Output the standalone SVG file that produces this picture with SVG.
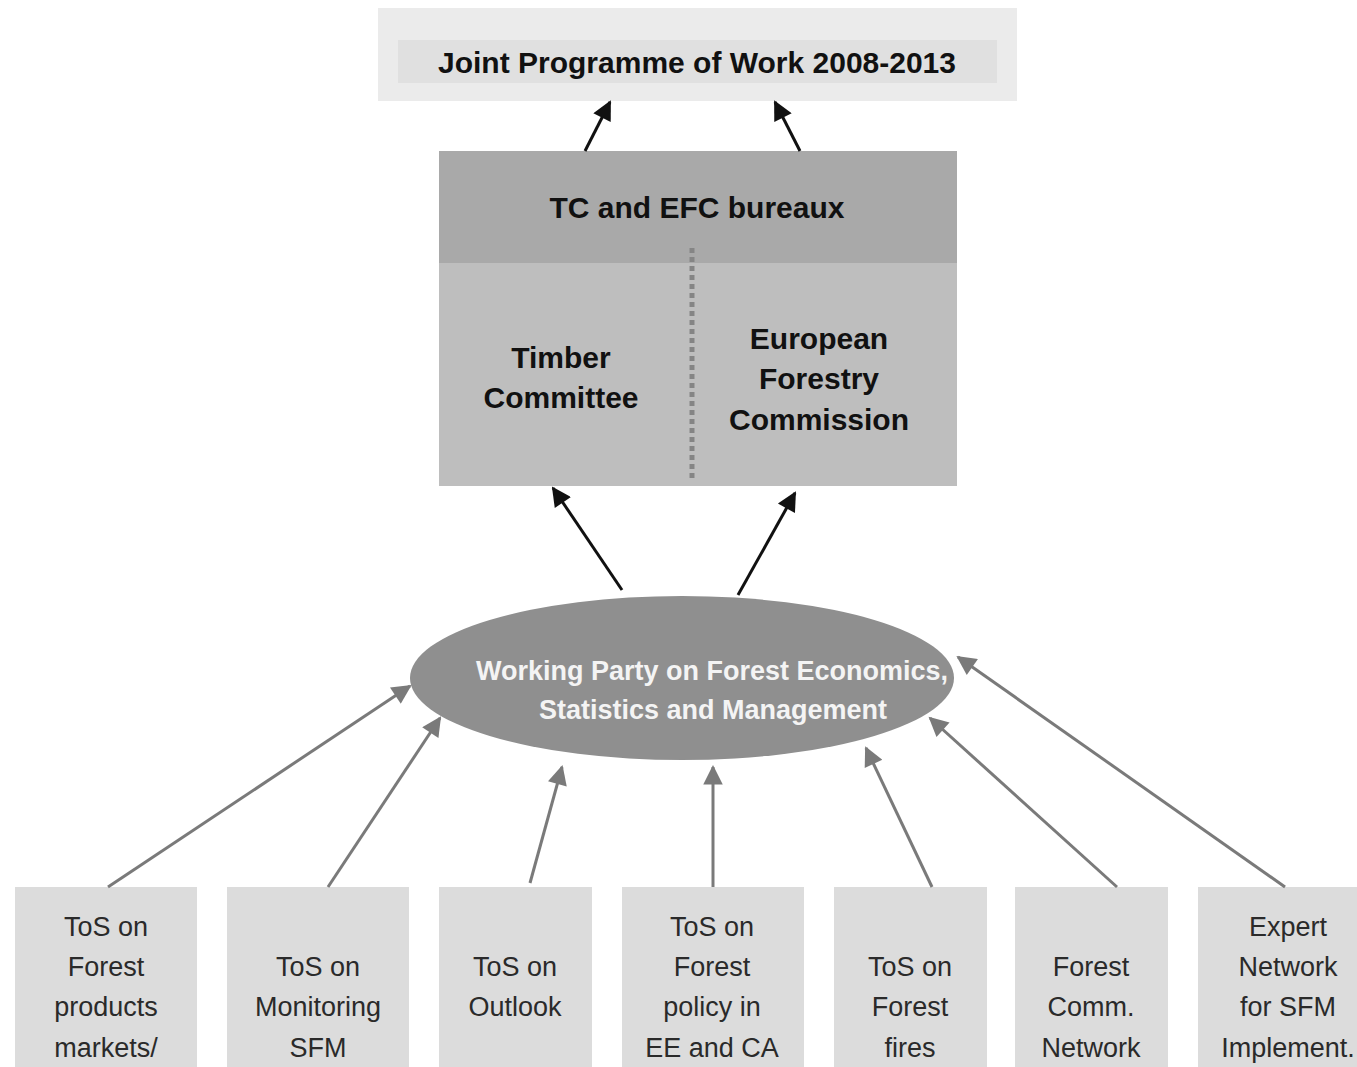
<svg xmlns="http://www.w3.org/2000/svg" width="1357" height="1067" viewBox="0 0 1357 1067">
<style>
.b{font-family:"Liberation Sans",Arial,sans-serif;font-weight:bold;font-size:30px;fill:#111;text-anchor:middle}
.w{font-family:"Liberation Sans",Arial,sans-serif;font-weight:bold;font-size:27px;fill:#f4f4f4;text-anchor:middle}
.n{font-family:"Liberation Sans",Arial,sans-serif;font-size:27px;fill:#2a2a2a;text-anchor:middle}
.tos{fill:#dcdcdc}
.k{stroke:#111;stroke-width:3;fill:none}
.g{stroke:#7a7a7a;stroke-width:3;fill:none}
</style>
<defs>
<marker id="ak" viewBox="0 0 10 10" refX="9" refY="5" markerWidth="7.5" markerHeight="6.5" markerUnits="strokeWidth" orient="auto"><path d="M0,0 L10,5 L0,10 Z" fill="#111"/></marker>
<marker id="ag" viewBox="0 0 10 10" refX="9" refY="5" markerWidth="7.5" markerHeight="6.5" markerUnits="strokeWidth" orient="auto"><path d="M0,0 L10,5 L0,10 Z" fill="#7a7a7a"/></marker>
</defs>
<rect width="1357" height="1067" fill="#fff"/>
<g id="joint">
<rect x="378" y="8" width="639" height="93" fill="#ebebeb"/>
<rect x="398" y="40" width="599" height="43" fill="#e0e0e0"/>
<text class="b" x="697" y="73">Joint Programme of Work 2008-2013</text>
</g>
<g id="bureaux">
<rect x="439" y="151" width="518" height="335" fill="#bebebe"/>
<rect x="439" y="151" width="518" height="112" fill="#a9a9a9"/>
<text class="b" x="697" y="218">TC and EFC bureaux</text>
<line x1="692" y1="248" x2="692" y2="482" stroke="#858585" stroke-width="5" stroke-dasharray="5,4"/>
<text class="b" x="561" y="368">Timber</text>
<text class="b" x="561" y="408">Committee</text>
<text class="b" x="819" y="349">European</text>
<text class="b" x="819" y="389">Forestry</text>
<text class="b" x="819" y="430">Commission</text>
</g>
<g id="wp">
<ellipse cx="682" cy="678" rx="272" ry="82" fill="#8f8f8f"/>
<text class="w" x="712" y="680">Working Party on Forest Economics,</text>
<text class="w" x="713" y="719">Statistics and Management</text>
</g>
<g id="tos1"><rect class="tos" x="15" y="887" width="182" height="190"/>
<text class="n" x="106" y="936">ToS on</text><text class="n" x="106" y="976">Forest</text><text class="n" x="106" y="1016">products</text><text class="n" x="106" y="1057">markets/</text></g>
<g id="tos2"><rect class="tos" x="227" y="887" width="182" height="190"/>
<text class="n" x="318" y="976">ToS on</text><text class="n" x="318" y="1016">Monitoring</text><text class="n" x="318" y="1057">SFM</text></g>
<g id="tos3"><rect class="tos" x="439" y="887" width="153" height="190"/>
<text class="n" x="515" y="976">ToS on</text><text class="n" x="515" y="1016">Outlook</text></g>
<g id="tos4"><rect class="tos" x="622" y="887" width="182" height="190"/>
<text class="n" x="712" y="936">ToS on</text><text class="n" x="712" y="976">Forest</text><text class="n" x="712" y="1016">policy in</text><text class="n" x="712" y="1057">EE and CA</text></g>
<g id="tos5"><rect class="tos" x="834" y="887" width="153" height="190"/>
<text class="n" x="910" y="976">ToS on</text><text class="n" x="910" y="1016">Forest</text><text class="n" x="910" y="1057">fires</text></g>
<g id="fcn"><rect class="tos" x="1015" y="887" width="153" height="190"/>
<text class="n" x="1091" y="976">Forest</text><text class="n" x="1091" y="1016">Comm.</text><text class="n" x="1091" y="1057">Network</text></g>
<g id="expert"><rect class="tos" x="1198" y="887" width="180" height="190"/>
<text class="n" x="1288" y="936">Expert</text><text class="n" x="1288" y="976">Network</text><text class="n" x="1288" y="1016">for SFM</text><text class="n" x="1288" y="1057">Implement.</text></g>
<g id="connectors">
<line class="k" x1="585" y1="151" x2="610" y2="102" marker-end="url(#ak)"/>
<line class="k" x1="800" y1="151" x2="775" y2="102" marker-end="url(#ak)"/>
<line class="k" x1="622" y1="590" x2="553" y2="488" marker-end="url(#ak)"/>
<line class="k" x1="738" y1="595" x2="795" y2="493" marker-end="url(#ak)"/>
<line class="g" x1="108" y1="887" x2="410" y2="686" marker-end="url(#ag)"/>
<line class="g" x1="328" y1="887" x2="440" y2="718" marker-end="url(#ag)"/>
<line class="g" x1="530" y1="883" x2="562" y2="767" marker-end="url(#ag)"/>
<line class="g" x1="713" y1="887" x2="713" y2="767" marker-end="url(#ag)"/>
<line class="g" x1="932" y1="887" x2="866" y2="748" marker-end="url(#ag)"/>
<line class="g" x1="1117" y1="887" x2="930" y2="718" marker-end="url(#ag)"/>
<line class="g" x1="1285" y1="887" x2="958" y2="657" marker-end="url(#ag)"/>
</g>
</svg>
